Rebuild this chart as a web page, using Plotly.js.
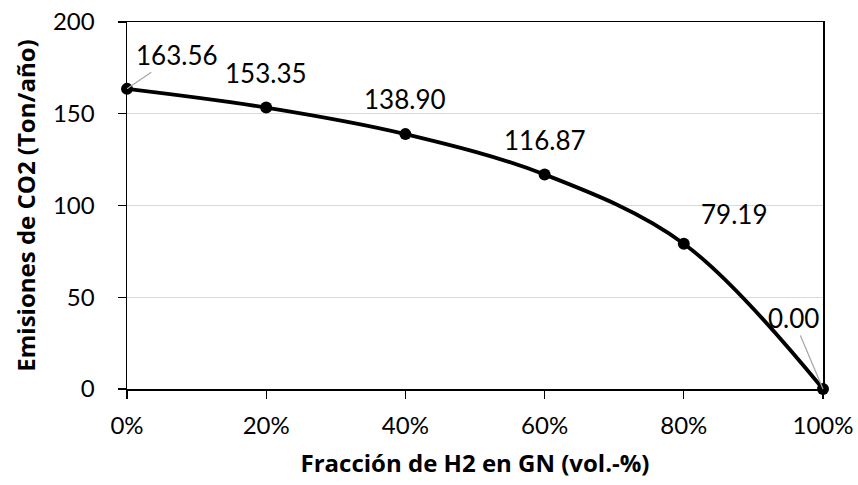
<!DOCTYPE html>
<html>
<head>
<meta charset="utf-8">
<script src="https://cdn.plot.ly/plotly-3.0.1.min.js"></script>
<style>
    html, body { margin: 0; padding: 0; background: #fff; }
    #chart { width: 858px; height: 485px; }
</style>
</head>
<body>
<div id="chart"></div>
<script>
// H2 fraction in natural gas (vol.-%) and resulting CO2 emissions (Ton/año)
const h2Fraction = [0, 20, 40, 60, 80, 100];
const co2Emissions = [163.56, 153.35, 138.90, 116.87, 79.19, 0.00];
const yTicks = [0, 50, 100, 150, 200];
const xTicks = [0, 20, 40, 60, 80, 100];

// label placement (pixels from the point), as in the original chart
const labelDx = [50, 0, 0, 0, 50, -30];
const labelDy = [-34, -35, -35, -35, -30, -71];
const labelLeader = [true, false, false, false, false, true];

const FONT = 'Lato, "Open Sans", sans-serif';
const TITLE_FONT = '"Open Sans", Lato, sans-serif';

function buildLabels() {
    return h2Fraction.map((x, i) => {
        const base = {
            x: x,
            y: co2Emissions[i],
            text: co2Emissions[i].toFixed(2),
            font: { family: FONT, size: 26, color: '#000' },
            xanchor: 'center',
            yanchor: 'middle'
        };
        if (labelLeader[i]) {
            return Object.assign(base, {
                showarrow: true,
                arrowhead: 0,
                arrowwidth: 1.2,
                arrowcolor: '#a6a6a6',
                standoff: 0,
                ax: labelDx[i],
                ay: labelDy[i]
            });
        }
        return Object.assign(base, {
            showarrow: false,
            xshift: labelDx[i],
            yshift: -labelDy[i]
        });
    });
}

const trace = {
    x: h2Fraction,
    y: co2Emissions,
    type: 'scatter',
    mode: 'lines+markers',
    line: { color: '#000', width: 3.8, shape: 'spline', smoothing: 1 },
    marker: { color: '#000', size: 12 },
    cliponaxis: false,
    hoverinfo: 'x+y'
};

const layout = {
    width: 858,
    height: 485,
    margin: { l: 127, r: 35, t: 22, b: 96 },
    paper_bgcolor: '#fff',
    plot_bgcolor: '#fff',
    showlegend: false,
    font: { family: FONT, size: 24, color: '#000' },
    xaxis: {
        range: [0, 100],
        tickvals: xTicks,
        ticktext: xTicks.map(v => v + '%'),
        ticks: 'outside',
        ticklen: 8,
        tickcolor: '#000',
        tickwidth: 1.3,
        ticklabelstandoff: 7,
        showline: true,
        linecolor: '#000',
        linewidth: 1.5,
        mirror: true,
        showgrid: false,
        zeroline: false,
        tickfont: { family: FONT, size: 24, color: '#000' },
        title: {
            text: 'Fracción de H2 en GN (vol.-%)',
            font: { family: TITLE_FONT, size: 24, color: '#000', weight: 'bold' },
            standoff: 17
        }
    },
    yaxis: {
        range: [0, 200],
        tickvals: yTicks,
        ticks: 'outside',
        ticklen: 8,
        tickcolor: '#000',
        tickwidth: 1.3,
        ticklabelstandoff: 18,
        showline: true,
        linecolor: '#000',
        linewidth: 1.5,
        mirror: true,
        showgrid: true,
        gridcolor: '#d9d9d9',
        gridwidth: 1.3,
        zeroline: false,
        tickfont: { family: FONT, size: 24, color: '#000' },
        title: {
            text: 'Emisiones de CO2 (Ton/año)',
            font: { family: TITLE_FONT, size: 24, color: '#000', weight: 'bold' },
            standoff: 10
        }
    },
    annotations: buildLabels()
};

Plotly.newPlot('chart', [trace], layout, { displayModeBar: false, staticPlot: true });
</script>
</body>
</html>
